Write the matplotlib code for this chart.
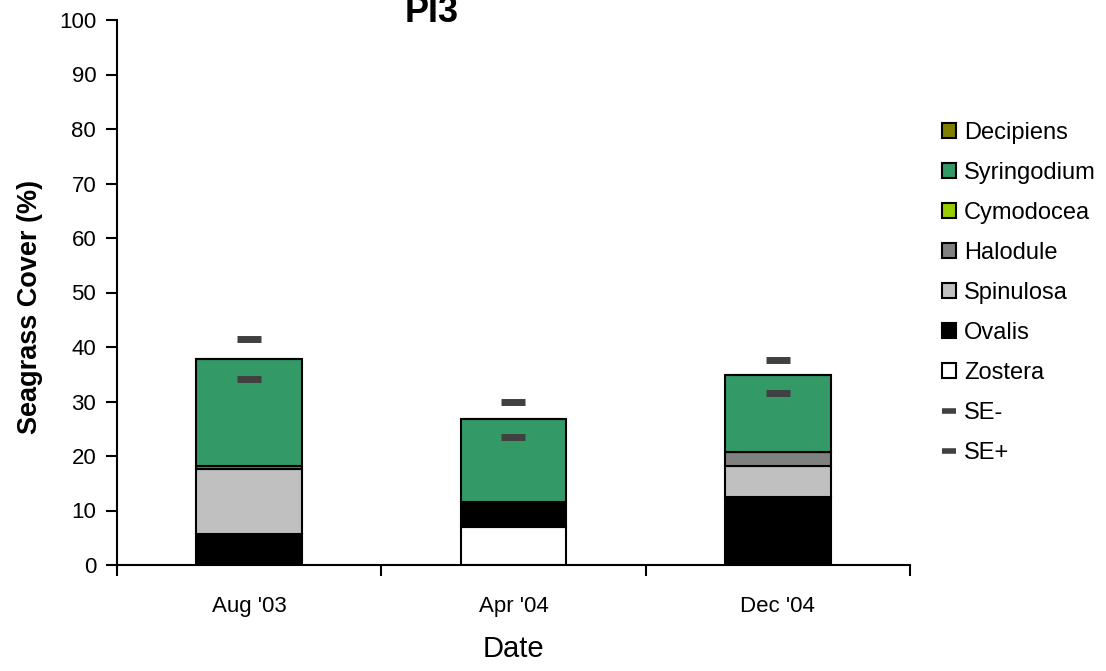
import matplotlib
matplotlib.use("Agg")
import matplotlib.pyplot as plt
import numpy as np
from matplotlib.patches import Patch
from matplotlib.lines import Line2D

plt.rcParams['font.family'] = ['Liberation Sans', 'DejaVu Sans']

dates = ["Aug '03", "Apr '04", "Dec '04"]
species = ["Zostera", "Ovalis", "Spinulosa", "Halodule", "Cymodocea", "Syringodium", "Decipiens"]
colors = {"Zostera": "#FFFFFF", "Ovalis": "#000000", "Spinulosa": "#C0C0C0",
          "Halodule": "#808080", "Cymodocea": "#99CC00", "Syringodium": "#339966",
          "Decipiens": "#808000"}
zostera = [0.0, 6.9, 0.0]
ovalis = [5.6, 4.6, 12.5]
spinulosa = [12.0, 0.0, 5.7]
halodule = [0.5, 0.0, 2.6]
cymodocea = [0.0, 0.0, 0.0]
syringodium = [19.7, 15.2, 14.1]
decipiens = [0.0, 0.0, 0.0]
se_minus = [34.1, 23.4, 31.5]
se_plus = [41.5, 30.0, 37.7]
values = {"Zostera": zostera, "Ovalis": ovalis, "Spinulosa": spinulosa, "Halodule": halodule,
          "Cymodocea": cymodocea, "Syringodium": syringodium, "Decipiens": decipiens}

fig = plt.figure(figsize=(11.06, 6.71), dpi=100)
ax = fig.add_axes([117/1106, 1-565/671, 793/1106, 545/671])

x = np.arange(len(dates))
bottom = np.zeros(len(dates))
for sp in species:
    v = np.array(values[sp])
    ax.bar(x, v, bottom=bottom, width=0.4, color=colors[sp], edgecolor='black',
           linewidth=1.5, zorder=2)
    bottom += v

ax.plot(x, se_minus, linestyle='none', marker='_', markersize=17, mew=5, color='#404040', zorder=3)
ax.plot(x, se_plus, linestyle='none', marker='_', markersize=17, mew=5, color='#404040', zorder=3)

ax.set_xlim(-0.5, 2.5)
ax.set_ylim(0, 100)
ax.set_yticks(np.arange(0, 101, 10))
ax.set_xticks(x)
ax.set_xticklabels(dates)
ax.set_xticks([-0.5, 0.5, 1.5, 2.5], minor=True)
ax.tick_params(axis='x', which='major', length=0, pad=22, labelsize=16)
ax.tick_params(axis='x', which='minor', length=8, width=1.5, direction='out')
ax.tick_params(axis='y', length=8, width=1.5, direction='out', pad=7, labelsize=16)
for s in ['top', 'right']:
    ax.spines[s].set_visible(False)
for s in ['left', 'bottom']:
    ax.spines[s].set_linewidth(1.5)

ax.set_xlabel('Date', fontsize=21)
ax.xaxis.set_label_coords(0.5, -0.128)
ax.xaxis.label.set_va('top')
ax.set_ylabel('Seagrass Cover (%)', fontsize=19.5, fontweight='bold')
ax.yaxis.set_label_coords(-0.093, 0.473)

fig.text(432/1106, 1-22/671, 'PI3', ha='center', va='baseline', fontsize=26, fontweight='bold')

handles = []
labels = []
for sp in species[::-1]:
    handles.append(Patch(facecolor=colors[sp], edgecolor='black', linewidth=1.5))
    labels.append(sp)
handles.append(Line2D([], [], color='#404040', lw=4, solid_capstyle='butt'))
labels.append('SE-')
handles.append(Line2D([], [], color='#404040', lw=4, solid_capstyle='butt'))
labels.append('SE+')
leg = fig.legend(handles, labels, loc='upper left', bbox_to_anchor=(942/1106, 1-122/671),
                 frameon=False, fontsize=17, handlelength=0.6, handleheight=0.6,
                 handletextpad=0.34, labelspacing=0.76, borderaxespad=0, borderpad=0)

fig.savefig('out.png', dpi=100)
